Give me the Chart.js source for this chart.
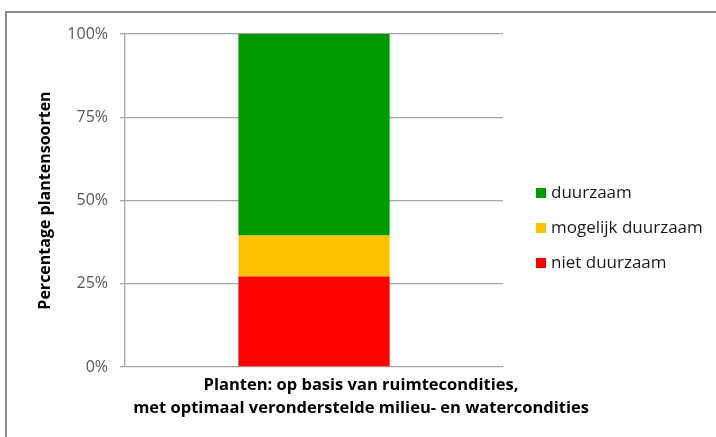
<!DOCTYPE html>
<html>
<head>
<meta charset="utf-8">
<script src="https://cdn.jsdelivr.net/npm/chart.js@4"></script>
<style>
  html, body { margin: 0; padding: 0; background: #fff; }
  #wrap { width: 716px; height: 437px; position: relative; }
</style>
</head>
<body>
<div id="wrap"><canvas id="c" width="716" height="437"></canvas></div>
<script>
// Share of plant species per sustainability class (percent)
const categories = ['Planten: op basis van ruimtecondities, met optimaal veronderstelde milieu- en watercondities'];
const seriesNames = ['niet duurzaam', 'mogelijk duurzaam', 'duurzaam'];
const nietDuurzaam = [27.2];
const mogelijkDuurzaam = [12.3];
const duurzaam = [60.5];
const yTicks = [0, 25, 50, 75, 100];
const xTitleLines = ['Planten: op basis van ruimtecondities,', 'met optimaal veronderstelde milieu- en watercondities'];
const yTitle = 'Percentage plantensoorten';

const colors = ['#ff0000', '#ffc000', '#009900'];
const FONT = '"Open Sans", "Liberation Sans", sans-serif';

// Outer frame, category caption and the legend on the right
const decor = {
  id: 'decor',
  beforeDraw(chart) {
    const ctx = chart.ctx;
    ctx.save();
    ctx.fillStyle = '#fff';
    ctx.fillRect(0, 0, chart.width, chart.height);
    ctx.strokeStyle = '#8a8a8a';
    ctx.lineWidth = 2;
    ctx.strokeRect(6, 12, chart.width + 20, chart.height + 20);
    ctx.restore();
  },
  afterDraw(chart) {
    const ctx = chart.ctx;
    ctx.save();
    // caption under the bar
    ctx.fillStyle = '#000';
    ctx.font = 'bold 16.5px ' + FONT;
    ctx.textAlign = 'center';
    ctx.textBaseline = 'alphabetic';
    ctx.fillText(xTitleLines[0], 361, 390);
    ctx.fillText(xTitleLines[1], 361, 413);
    // legend, top to bottom in reverse stacking order
    const ds = chart.data.datasets;
    const rows = [193, 228, 263];
    ctx.font = '17px ' + FONT;
    ctx.textAlign = 'left';
    ctx.textBaseline = 'middle';
    for (let i = 0; i < ds.length; i++) {
      const d = ds[ds.length - 1 - i];
      const y = rows[i];
      ctx.fillStyle = d.backgroundColor;
      ctx.fillRect(536, y - 5, 10, 10);
      ctx.fillStyle = '#1a1a1a';
      ctx.fillText(d.label, 551, y);
    }
    ctx.restore();
  }
};

new Chart(document.getElementById('c'), {
  type: 'bar',
  data: {
    labels: categories,
    datasets: [
      { label: seriesNames[0], data: nietDuurzaam, backgroundColor: colors[0] },
      { label: seriesNames[1], data: mogelijkDuurzaam, backgroundColor: colors[1] },
      { label: seriesNames[2], data: duurzaam, backgroundColor: colors[2] }
    ]
  },
  options: {
    responsive: false,
    devicePixelRatio: 1,
    animation: false,
    layout: { padding: { top: 34, right: 213, left: 8, bottom: 0 } },
    plugins: {
      legend: { display: false },
      tooltip: { enabled: false }
    },
    datasets: { bar: { categoryPercentage: 1, barPercentage: 0.4, borderWidth: 0 } },
    scales: {
      x: {
        stacked: true,
        grid: { display: false },
        border: { display: false },
        ticks: { display: false },
        afterFit(scale) { scale.height = 70; }
      },
      y: {
        stacked: true,
        min: 0,
        max: 100,
        afterBuildTicks(scale) { scale.ticks = yTicks.map(v => ({ value: v })); },
        ticks: {
          callback: v => v + '%',
          color: '#595959',
          font: { family: FONT, size: 16 },
          padding: 12
        },
        grid: { color: '#a6a6a6', lineWidth: 1.3, tickLength: 5 },
        border: { display: true, color: '#a6a6a6', width: 1.3 },
        title: {
          display: true,
          text: yTitle,
          color: '#000',
          font: { family: FONT, size: 16, weight: 'bold' },
          padding: { top: 28, bottom: 0 }
        },
        afterFit(scale) { scale.width = 117; }
      }
    }
  },
  plugins: [decor]
});
</script>
</body>
</html>
